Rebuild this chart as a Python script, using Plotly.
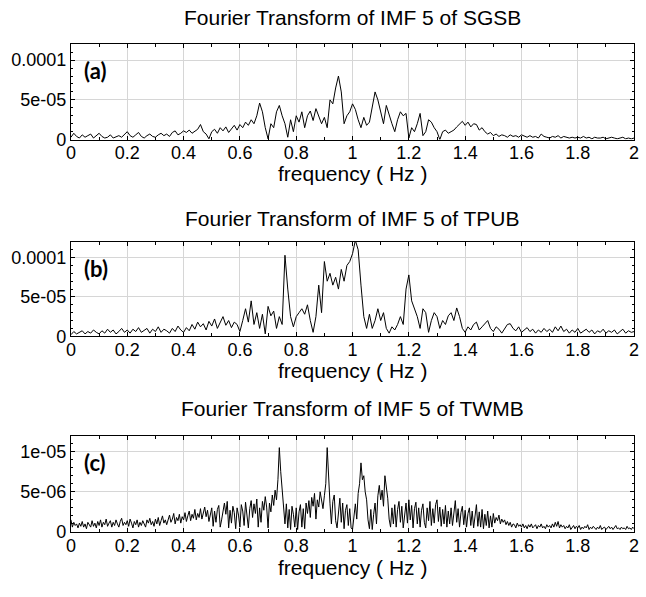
import numpy as np
import plotly.graph_objects as go

W, H = 646, 597

freq_a = [round(i * 0.01, 3) for i in range(201)]
amp_a_e5 = [
    0.3, 0.8, 0.4, 0.2, 0.6, 0.3, 0.5, 0.7, 0.2, 0.5,
    0.8, 0.4, 0.2, 0.3, 0.6, 0.2, 0.4, 0.5, 0.3, 0.6,
    1.0, 0.5, 0.3, 0.6, 0.9, 0.4, 0.2, 0.5, 0.7, 0.4,
    0.3, 0.6, 0.8, 0.5, 0.7, 0.4, 0.9, 1.1, 0.6, 0.8,
    1.1, 0.9, 1.2, 0.8, 1.0, 1.3, 1.9, 1.0, 0.7, 0.1,
    1.0, 1.3, 0.8, 1.5, 1.1, 1.6, 0.9, 1.4, 1.8, 1.2,
    1.9, 1.5, 2.2, 1.8, 2.5, 2.0, 3.0, 4.6, 3.5, 1.5,
    0.1, 2.0, 1.5, 3.5, 4.3, 3.0, 2.0, 0.3, 2.5, 1.0,
    3.0, 2.2, 3.5, 1.5, 3.0, 3.6, 2.4, 3.9, 3.0, 2.0,
    2.8, 1.5, 5.0, 4.5, 6.5, 8.0, 6.0, 2.0, 3.0, 3.5,
    4.5, 3.8, 2.5, 1.5, 2.8, 1.8, 2.2, 4.0, 6.0, 5.0,
    3.5, 2.0, 4.3, 3.0, 2.0, 1.0, 2.5, 3.5, 3.0, 3.3,
    0.2, 1.5, 1.0, 2.0, 3.3, 0.5, 1.0, 2.5, 2.2, 1.5,
    1.0, 0.0, 1.0, 1.2, 0.8, 1.0, 1.2, 1.6, 2.0, 2.3,
    1.8, 2.2, 1.6, 2.0, 1.9, 1.2, 1.5, 1.0, 0.7, 0.9,
    0.5, 0.7, 0.4, 0.6, 0.5, 0.3, 0.6, 0.4, 0.5, 0.3,
    0.6, 0.4, 0.3, 0.5, 0.3, 0.4, 0.2, 0.7, 0.4, 0.3,
    0.2, 0.4, 0.3, 0.5, 0.2, 0.4, 0.3, 0.2, 0.3, 0.2,
    0.3, 0.2, 0.4, 0.2, 0.3, 0.1, 0.3, 0.2, 0.2, 0.3,
    0.1, 0.2, 0.3, 0.2, 0.1, 0.2, 0.3, 0.1, 0.2, 0.1,
    0.2,
]

freq_b = [round(i * 0.01, 3) for i in range(201)]
amp_b_e5 = [
    0.2, 0.6, 0.3, 0.5, 0.7, 0.3, 0.6, 0.4, 0.8, 0.5,
    0.3, 0.7, 0.4, 0.9, 0.5, 0.8, 0.3, 0.6, 1.0, 0.5,
    0.8, 0.4, 0.9, 0.6, 1.1, 0.5, 0.8, 1.0, 0.4, 0.9,
    0.6, 1.2, 0.5, 0.9, 0.7, 0.4, 1.0, 0.6, 1.3, 0.8,
    0.5, 1.1, 0.7, 1.5, 0.9, 1.8, 1.2, 1.6, 0.8, 1.9,
    1.3, 2.2, 1.0, 1.7, 2.5, 1.4, 2.0, 1.1, 1.8, 1.5,
    0.6, 2.0, 3.5, 1.8, 4.5, 1.5, 3.0, 1.0, 2.8, 0.3,
    3.8, 2.6, 3.2, 1.0, 2.5, 1.5, 10.3, 6.0, 2.5, 1.2,
    2.5, 3.0, 3.5, 2.8, 4.0, 2.0, 0.5, 2.5, 6.5, 3.0,
    9.5, 7.0, 8.0, 6.5, 7.5, 6.0, 8.5, 7.0, 9.0, 9.5,
    10.5, 12.2, 11.0, 6.5, 2.5, 1.0, 2.8, 1.0, 2.0, 3.5,
    2.0, 3.0, 1.0, 0.4, 1.2, 0.8, 1.5, 2.5, 1.5, 6.0,
    7.8, 4.5, 3.5, 2.5, 1.0, 3.5, 3.0, 0.5, 2.0, 3.0,
    2.5, 1.0, 2.0, 1.5, 2.6, 3.0, 2.0, 3.6, 2.5, 1.0,
    0.5, 1.2, 0.8, 1.5, 1.8, 0.8, 1.2, 1.6, 2.0, 1.0,
    0.6, 1.2, 0.9, 0.4, 1.0, 1.5, 1.6, 1.0, 0.7, 1.2,
    0.5, 0.8, 1.1, 0.6, 0.9, 0.4, 0.8, 0.5, 1.0, 0.6,
    0.9, 0.5, 1.2, 0.7, 1.3, 0.6, 0.9, 0.4, 0.8, 0.5,
    1.0, 0.4, 0.7, 0.9, 0.5, 0.8, 0.3, 0.7, 0.5, 0.9,
    0.4, 0.7, 0.5, 0.8, 0.3, 0.6, 0.9, 0.4, 0.7, 0.5,
    0.6,
]

freq_c = [round(i * 0.005, 4) for i in range(401)]
amp_c_e6 = [
    1.5, 0.6, 1.2, 0.8, 1.0, 0.5, 1.1, 0.7, 1.3, 0.6,
    1.0, 0.4, 1.2, 0.9, 0.6, 1.4, 0.7, 1.1, 0.5, 1.3,
    0.8, 1.5, 0.6, 1.2, 0.9, 1.6, 0.7, 1.1, 1.4, 0.6,
    1.2, 0.8, 1.5, 1.0, 0.6, 1.3, 1.7, 0.8, 1.2, 0.9,
    1.4, 0.7, 1.6, 1.1, 0.5, 1.3, 0.9, 1.5, 0.6, 1.2,
    0.8, 1.4, 1.0, 0.6, 1.5, 1.1, 1.7, 0.9, 1.3, 0.7,
    1.6, 1.0, 1.8, 0.8, 1.4, 2.0, 1.1, 1.5, 0.9, 1.7,
    2.1, 1.2, 1.6, 2.3, 1.0, 1.8, 1.4, 2.2, 1.1, 1.9,
    1.5, 2.4, 1.3, 2.0, 2.6, 1.4, 2.2, 1.7, 2.8, 1.5,
    2.3, 1.8, 2.9, 1.6, 2.5, 3.1, 1.9, 2.7, 1.3, 2.4,
    3.0, 0.7, 2.6, 1.2, 2.8, 3.3, 0.6, 1.5, 2.9, 3.6,
    2.2, 3.8, 0.5, 2.7, 1.1, 3.2, 2.4, 0.4, 3.0, 2.1,
    0.6, 3.4, 2.6, 0.8, 3.7, 2.2, 0.5, 2.9, 3.9, 1.8,
    3.5, 2.3, 4.1, 0.6, 3.0, 1.2, 3.8, 2.7, 4.4, 3.1,
    0.5, 3.6, 2.5, 4.6, 3.3, 5.2, 4.0, 6.5, 10.5, 7.5,
    5.0, 3.0, 1.0, 3.5, 0.5, 2.8, 0.3, 3.2, 2.2, 0.6,
    3.0, 0.3, 2.5, 3.4, 0.6, 2.9, 0.4, 3.6, 2.3, 3.9,
    1.8, 4.3, 3.2, 4.8, 1.6, 4.0, 3.1, 5.0, 3.8, 2.9,
    4.5, 6.0, 10.5, 6.5, 3.5, 1.0, 3.8, 4.6, 1.4, 0.5,
    3.0, 4.2, 1.2, 3.6, 0.4, 2.7, 3.4, 0.8, 2.9, 0.5,
    0.3, 2.0, 3.5, 1.6, 4.8, 6.0, 8.6, 6.5, 7.0, 5.0,
    4.0, 1.5, 0.4, 2.8, 0.3, 2.2, 3.6, 1.0, 4.5, 5.8,
    4.0, 5.2, 3.2, 7.0, 5.5, 4.2, 1.6, 0.6, 3.0, 1.0,
    3.4, 0.6, 2.8, 3.8, 1.2, 3.2, 0.5, 2.6, 3.6, 1.1,
    4.0, 1.5, 3.3, 0.5, 2.9, 3.7, 1.0, 3.0, 0.6, 2.7,
    3.5, 1.2, 0.5, 3.0, 1.4, 3.8, 0.8, 2.9, 1.1, 3.4,
    4.0, 1.3, 3.1, 0.7, 2.8, 1.0, 3.3, 0.6, 2.6, 1.0,
    3.0, 0.8, 2.5, 3.9, 1.2, 2.9, 0.6, 2.4, 3.2, 0.9,
    2.7, 0.6, 2.3, 3.0, 0.8, 2.6, 0.5, 2.2, 3.4, 0.7,
    2.5, 0.6, 2.8, 0.4, 2.2, 0.8, 2.6, 0.5, 2.0, 0.6,
    2.3, 1.1, 1.8, 1.4, 2.1, 1.0, 1.6, 1.2, 1.5, 0.9,
    1.3, 0.8, 1.2, 0.6, 1.0, 0.9, 0.5, 1.1, 0.7, 0.9,
    0.6, 1.0, 0.5, 0.8, 0.4, 0.9, 0.6, 1.0, 0.5, 0.7,
    0.9, 0.4, 0.8, 0.6, 1.0, 0.5, 0.7, 0.4, 0.9, 0.6,
    0.8, 0.5, 1.0, 0.6, 1.2, 0.7, 1.3, 0.5, 0.9, 0.6,
    0.8, 0.4, 0.7, 0.5, 0.9, 0.3, 0.6, 0.8, 0.4, 0.7,
    0.5, 0.8, 0.3, 0.6, 0.4, 0.7, 0.5, 0.9, 0.3, 0.6,
    0.4, 0.7, 0.5, 0.3, 0.6, 0.4, 0.8, 0.3, 0.5, 0.6,
    0.3, 0.5, 0.7, 0.4, 0.6, 0.3, 0.5, 0.8, 0.4, 0.5,
    0.3, 0.6, 0.4, 0.5, 0.3, 0.7, 0.4, 0.5, 0.3, 0.6,
    0.4,
]

titles = ["Fourier Transform of IMF 5 of SGSB",
          "Fourier Transform of IMF 5 of TPUB",
          "Fourier Transform of IMF 5 of TWMB"]
panel_tags = ["(a)", "(b)", "(c)"]
x_label = "frequency ( Hz )"
x_ticks = [0, 0.2, 0.4, 0.6, 0.8, 1.0, 1.2, 1.4, 1.6, 1.8, 2.0]
x_ticktext = ["0", "0.2", "0.4", "0.6", "0.8", "1", "1.2", "1.4", "1.6", "1.8", "2"]
y_ticks_ab = [0, 5e-5, 1e-4]
y_ticktext_ab = ["0", "5e-05", "0.0001"]
y_ticks_c = [0, 5e-6, 1e-5]
y_ticktext_c = ["0", "5e-06", "1e-05"]

series = [
    (freq_a, [v * 1e-5 for v in amp_a_e5]),
    (freq_b, [v * 1e-5 for v in amp_b_e5]),
    (freq_c, [v * 1e-6 for v in amp_c_e6]),
]
y_ranges = [[0, 1.2e-4], [0, 1.2e-4], [0, 1.2e-5]]
y_tickvals = [y_ticks_ab, y_ticks_ab, y_ticks_c]
y_ticktexts = [y_ticktext_ab, y_ticktext_ab, y_ticktext_c]

# pixel geometry (top, bottom) of each plot box
boxes = [(45, 142), (246, 342), (443, 541)]
x_left, x_right = 67, 639
title_y = [18, 222, 415]
xlabel_y = [176, 377, 577]

FONT = "Liberation Sans"
fig = go.Figure()
annotations = []
for i, ((fx, fy), (top, bot)) in enumerate(zip(series, boxes)):
    n = "" if i == 0 else str(i + 1)
    fig.add_trace(go.Scatter(x=fx, y=fy, mode="lines",
                             line=dict(color="black", width=1),
                             xaxis="x" + n, yaxis="y" + n, showlegend=False,
                             hoverinfo="skip"))
    common = dict(showline=True, linecolor="black", linewidth=1, mirror="ticks",
                  ticks="inside", ticklen=4, tickcolor="black",
                  showgrid=True, gridcolor="#d6d6d6", gridwidth=1,
                  zeroline=False,
                  tickfont=dict(family=FONT, size=18, color="black"))
    fig.update_layout(**{
        "xaxis" + n: dict(common, domain=[x_left / W, x_right / W],
                          anchor="y" + n, range=[0, 2],
                          tickvals=x_ticks, ticktext=x_ticktext,
                          ticklabelstandoff=-3,
                          minor=dict(dtick=0.1, ticks="inside", ticklen=3,
                                     tickcolor="black", showgrid=False)),
        "yaxis" + n: dict(common, domain=[1 - bot / H, 1 - top / H],
                          anchor="x" + n, range=y_ranges[i],
                          tickvals=y_tickvals[i], ticktext=y_ticktexts[i],
                          minor=dict(dtick=y_tickvals[i][1] / 5, ticks="inside",
                                     ticklen=2, tickcolor="black", showgrid=False)),
    })
    annotations.append(dict(text=titles[i], x=(x_left + x_right) / 2 / W,
                            y=1 - title_y[i] / H, xref="paper", yref="paper",
                            showarrow=False, xanchor="center", yanchor="middle",
                            font=dict(family=FONT, size=21, color="black")))
    annotations.append(dict(text=x_label, x=(x_left + x_right) / 2 / W,
                            y=1 - xlabel_y[i] / H, xref="paper", yref="paper",
                            showarrow=False, xanchor="center", yanchor="middle",
                            font=dict(family=FONT, size=21, color="black")))
    annotations.append(dict(text="<b>" + panel_tags[i] + "</b>",
                            x=0.02, y=0.72,
                            xref="x" + n + " domain", yref="y" + n + " domain",
                            showarrow=False, xanchor="left", yanchor="middle",
                            font=dict(family="Lato", size=22, color="black")))

fig.update_layout(width=W, height=H, margin=dict(l=0, r=0, t=0, b=0),
                  paper_bgcolor="white", plot_bgcolor="white",
                  annotations=annotations)
fig.write_html("out.html")
